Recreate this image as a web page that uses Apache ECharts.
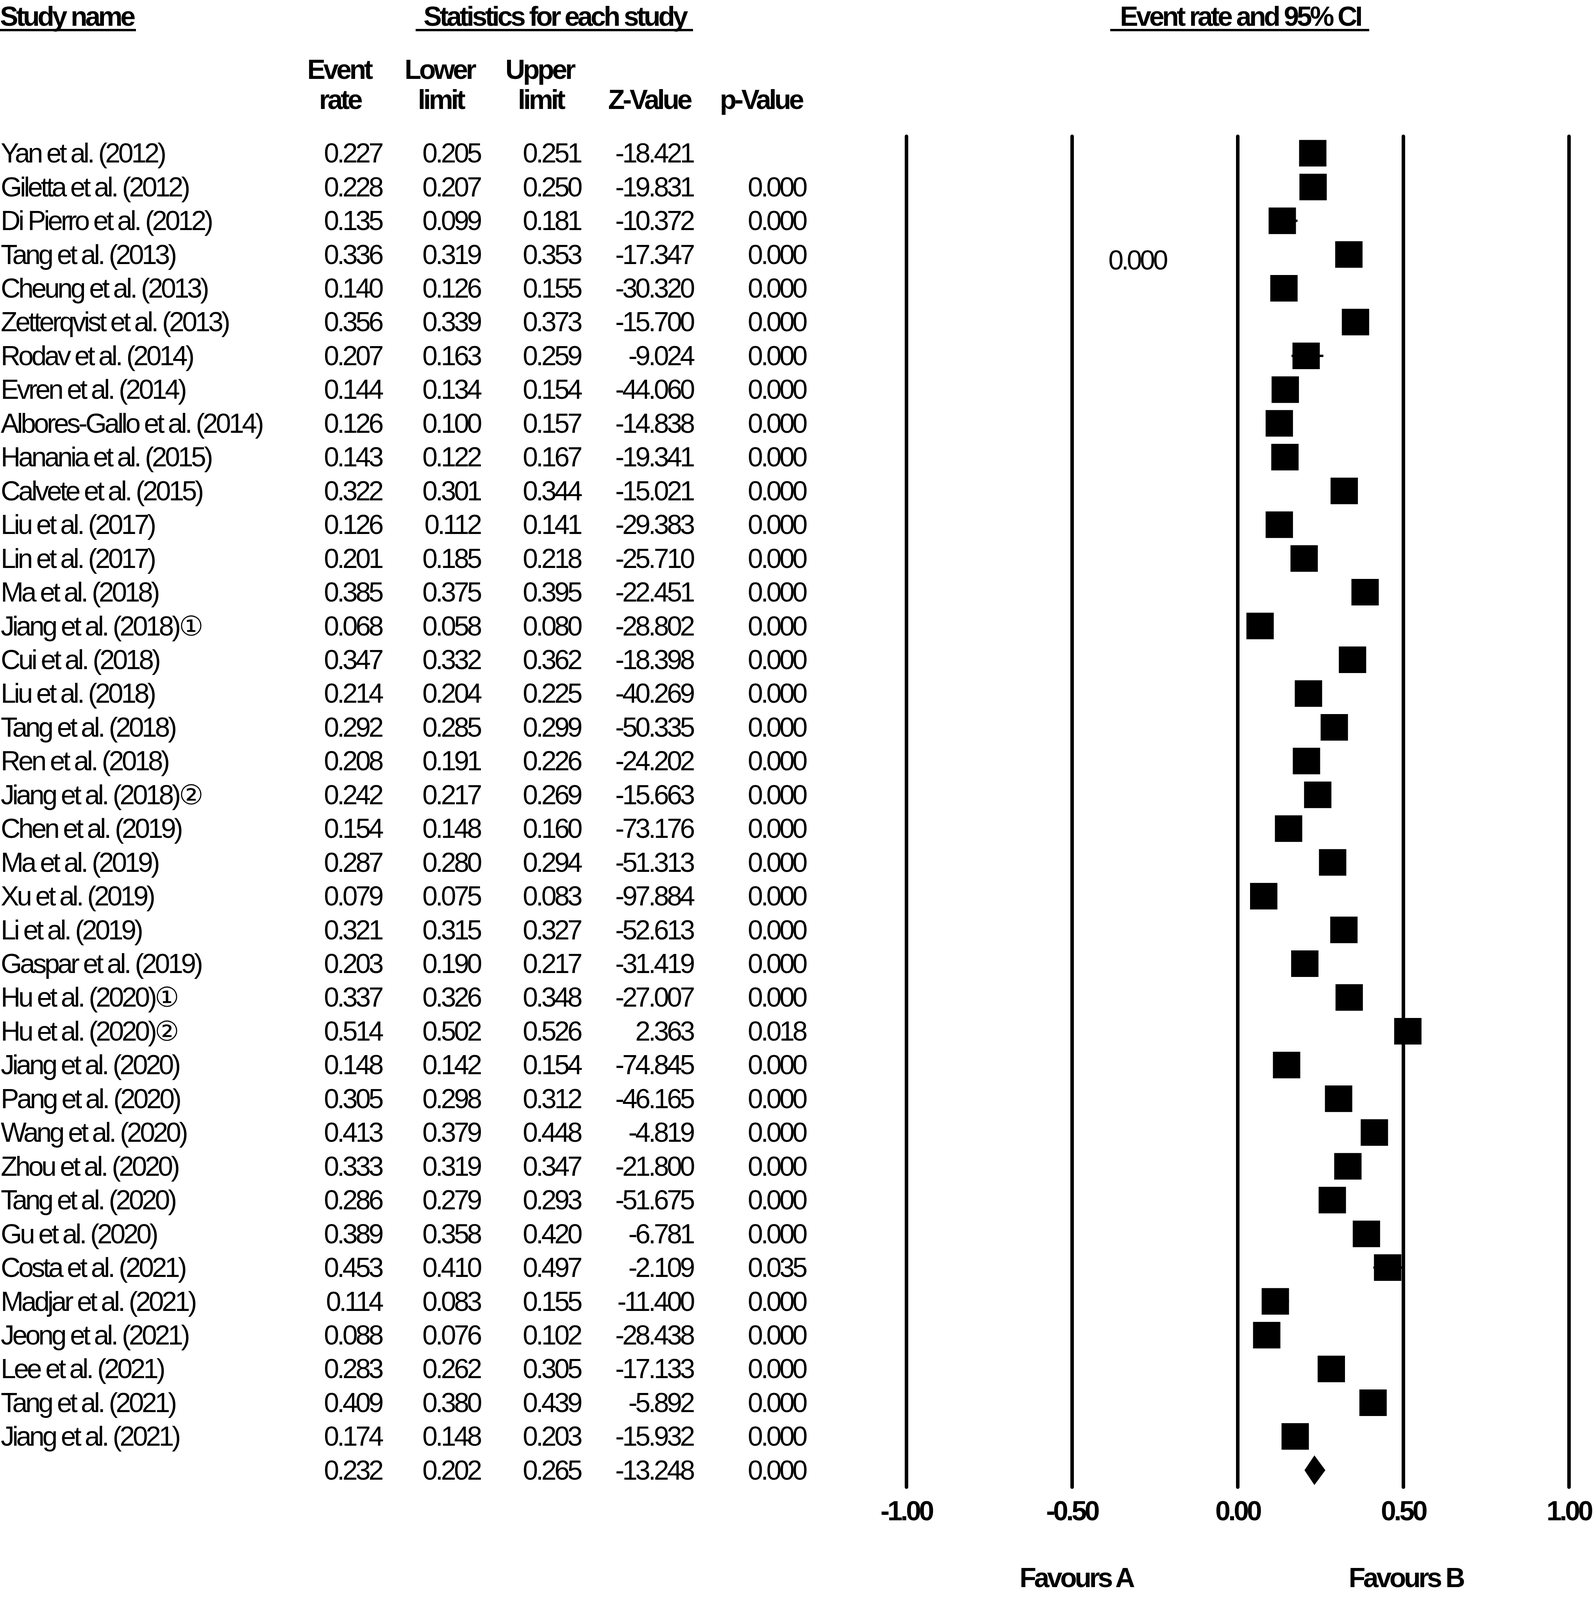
<!DOCTYPE html>
<html>
<head>
<meta charset="utf-8">
<title>Forest plot - event rate and 95% CI</title>
<script src="https://cdn.jsdelivr.net/npm/echarts@6/dist/echarts.min.js"></script>
<style>
  html, body { margin: 0; padding: 0; background: #fff; overflow: hidden; }
  #forest { width: 4083px; height: min(4222px, 100vh); }
  /* the original figure uses very tight letter spacing */
  #forest text { letter-spacing: -5.5px; }
</style>
</head>
<body>
<div id="forest"></div>
<script>
// study rows (last row is the pooled result, it has no name)
const studyNames = [
  'Yan et al. (2012)', 'Giletta et al. (2012)', 'Di Pierro et al. (2012)', 'Tang et al. (2013)',
  'Cheung et al. (2013)', 'Zetterqvist et al. (2013)', 'Rodav et al. (2014)', 'Evren et al. (2014)',
  'Albores-Gallo et al. (2014)', 'Hanania et al. (2015)', 'Calvete et al. (2015)', 'Liu et al. (2017)',
  'Lin et al. (2017)', 'Ma et al. (2018)', 'Jiang et al. (2018)①', 'Cui et al. (2018)',
  'Liu et al. (2018)', 'Tang et al. (2018)', 'Ren et al. (2018)', 'Jiang et al. (2018)②',
  'Chen et al. (2019)', 'Ma et al. (2019)', 'Xu et al. (2019)', 'Li et al. (2019)',
  'Gaspar et al. (2019)', 'Hu et al. (2020)①', 'Hu et al. (2020)②', 'Jiang et al. (2020)',
  'Pang et al. (2020)', 'Wang et al. (2020)', 'Zhou et al. (2020)', 'Tang et al. (2020)',
  'Gu et al. (2020)', 'Costa et al. (2021)', 'Madjar et al. (2021)', 'Jeong et al. (2021)',
  'Lee et al. (2021)', 'Tang et al. (2021)', 'Jiang et al. (2021)', ''
];
const eventRate = [0.227, 0.228, 0.135, 0.336, 0.140, 0.356, 0.207, 0.144, 0.126, 0.143, 0.322, 0.126, 0.201,
  0.385, 0.068, 0.347, 0.214, 0.292, 0.208, 0.242, 0.154, 0.287, 0.079, 0.321, 0.203, 0.337, 0.514, 0.148,
  0.305, 0.413, 0.333, 0.286, 0.389, 0.453, 0.114, 0.088, 0.283, 0.409, 0.174, 0.232];
const lowerLimit = [0.205, 0.207, 0.099, 0.319, 0.126, 0.339, 0.163, 0.134, 0.100, 0.122, 0.301, 0.112, 0.185,
  0.375, 0.058, 0.332, 0.204, 0.285, 0.191, 0.217, 0.148, 0.280, 0.075, 0.315, 0.190, 0.326, 0.502, 0.142,
  0.298, 0.379, 0.319, 0.279, 0.358, 0.410, 0.083, 0.076, 0.262, 0.380, 0.148, 0.202];
const upperLimit = [0.251, 0.250, 0.181, 0.353, 0.155, 0.373, 0.259, 0.154, 0.157, 0.167, 0.344, 0.141, 0.218,
  0.395, 0.080, 0.362, 0.225, 0.299, 0.226, 0.269, 0.160, 0.294, 0.083, 0.327, 0.217, 0.348, 0.526, 0.154,
  0.312, 0.448, 0.347, 0.293, 0.420, 0.497, 0.155, 0.102, 0.305, 0.439, 0.203, 0.265];
const zValue = ['-18.421', '-19.831', '-10.372', '-17.347', '-30.320', '-15.700', '-9.024', '-44.060',
  '-14.838', '-19.341', '-15.021', '-29.383', '-25.710', '-22.451', '-28.802', '-18.398', '-40.269',
  '-50.335', '-24.202', '-15.663', '-73.176', '-51.313', '-97.884', '-52.613', '-31.419', '-27.007',
  '2.363', '-74.845', '-46.165', '-4.819', '-21.800', '-51.675', '-6.781', '-2.109', '-11.400',
  '-28.438', '-17.133', '-5.892', '-15.932', '-13.248'];
const pValue = ['', '0.000', '0.000', '0.000', '0.000', '0.000', '0.000', '0.000', '0.000', '0.000',
  '0.000', '0.000', '0.000', '0.000', '0.000', '0.000', '0.000', '0.000', '0.000', '0.000', '0.000',
  '0.000', '0.000', '0.000', '0.000', '0.000', '0.018', '0.000', '0.000', '0.000', '0.000', '0.000',
  '0.000', '0.035', '0.000', '0.000', '0.000', '0.000', '0.000', '0.000'];
const xTicks = [-1, -0.5, 0, 0.5, 1];

const FONT = "'Liberation Sans', Arial, sans-serif";
const GRID_LEFT = 2320;
const rowIdx = studyNames.map((n, i) => String(i));
const summaryRow = studyNames.length - 1;

const el = document.getElementById('forest');
// layout was measured on a 4222px tall figure; squeeze it if the viewport is shorter
const sy = Math.min(1, el.clientHeight / 4222);
const Y = v => Math.round(v * sy);

// one hidden category axis per table column, labels placed to the left of the plot
function columnAxis(margin, align, fmt) {
  return {
    type: 'category', gridIndex: 0, position: 'left', inverse: true, data: rowIdx,
    axisLine: { show: false }, axisTick: { show: false }, splitLine: { show: false },
    axisLabel: {
      interval: 0, margin: margin, align: align, color: '#000', fontFamily: FONT, fontSize: 70,
      formatter: v => fmt(Number(v))
    }
  };
}

function headText(text, x, y, bold, align) {
  return {
    type: 'text', x: x, y: Y(y),
    style: {
      text: text, fill: '#000', fontFamily: FONT, fontSize: 70,
      fontWeight: bold ? 'bold' : 'normal', align: align || 'center', verticalAlign: 'middle'
    }
  };
}
function underline(x1, x2, y) {
  return { type: 'rect', shape: { x: x1, y: Y(y), width: x2 - x1, height: 6 }, style: { fill: '#000' } };
}

const chart = echarts.init(el, null, { renderer: 'svg' });
chart.setOption({
  animation: false,
  backgroundColor: '#fff',
  grid: { left: GRID_LEFT, right: 67, top: Y(360), height: Y(3564), outerBoundsMode: 'none' },
  xAxis: {
    type: 'value', min: xTicks[0], max: xTicks[xTicks.length - 1], interval: 0.5,
    axisLine: { show: false }, axisTick: { show: false },
    splitLine: { show: true, lineStyle: { color: '#000', width: 9, cap: 'round' } },
    axisLabel: {
      margin: 26, color: '#000', fontFamily: FONT, fontSize: 70, fontWeight: 'bold',
      formatter: v => v.toFixed(2)
    }
  },
  yAxis: [
    columnAxis(GRID_LEFT - 2, 'left', i => studyNames[i]),
    columnAxis(GRID_LEFT - 977, 'right', i => eventRate[i].toFixed(3)),
    columnAxis(GRID_LEFT - 1229, 'right', i => lowerLimit[i].toFixed(3)),
    columnAxis(GRID_LEFT - 1486, 'right', i => upperLimit[i].toFixed(3)),
    columnAxis(GRID_LEFT - 1774, 'right', i => zValue[i]),
    columnAxis(GRID_LEFT - 2062, 'right', i => pValue[i])
  ],
  series: [
    {
      name: 'CI', type: 'custom', z: 2,
      encode: { x: [0, 1], y: 2 },
      data: lowerLimit.slice(0, summaryRow).map((lo, i) => [lo, upperLimit[i], i]),
      renderItem: (params, api) => {
        const a = api.coord([api.value(0), api.value(2)]);
        const b = api.coord([api.value(1), api.value(2)]);
        return {
          type: 'line', shape: { x1: a[0], y1: a[1], x2: b[0], y2: b[1] },
          style: { stroke: '#000', lineWidth: 6 }
        };
      }
    },
    {
      name: 'Event rate', type: 'scatter', z: 3,
      symbol: 'rect', symbolSize: [70, Y(70)],
      itemStyle: { color: '#000', opacity: 1 },
      data: eventRate.slice(0, summaryRow).map((v, i) => [v, i])
    },
    {
      name: 'Pooled', type: 'custom', z: 3,
      encode: { x: [0, 1, 2], y: 3 },
      data: [[eventRate[summaryRow], lowerLimit[summaryRow], upperLimit[summaryRow], summaryRow]],
      renderItem: (params, api) => {
        const row = api.value(3);
        const c = api.coord([api.value(0), row]);
        const l = api.coord([api.value(1), row]);
        const r = api.coord([api.value(2), row]);
        const h = api.size([0, 1])[1] * 0.44;
        return {
          type: 'polygon',
          shape: { points: [[l[0], c[1]], [c[0], c[1] - h], [r[0], c[1]], [c[0], c[1] + h]] },
          style: { fill: '#000' }
        };
      }
    }
  ],
  graphic: [
    headText('Study name', 0, 43, true, 'left'),
    underline(0, 348, 76),
    headText('Statistics for each study', 1420, 43, true),
    underline(1064, 1774, 76),
    headText('Event rate and 95% CI', 3175, 43, true),
    underline(2842, 3505, 76),
    headText('Event', 868, 183, true), headText('rate', 870, 263, true),
    headText('Lower', 1125, 183, true), headText('limit', 1128, 263, true),
    headText('Upper', 1381, 183, true), headText('limit', 1384, 263, true),
    headText('Z-Value', 1662, 263, true),
    headText('p-Value', 1948, 263, true),
    headText('0.000', 2911, 686, false),
    headText('Favours A', 2755, 4163, true),
    headText('Favours B', 3599, 4163, true)
  ]
});
</script>
</body>
</html>
